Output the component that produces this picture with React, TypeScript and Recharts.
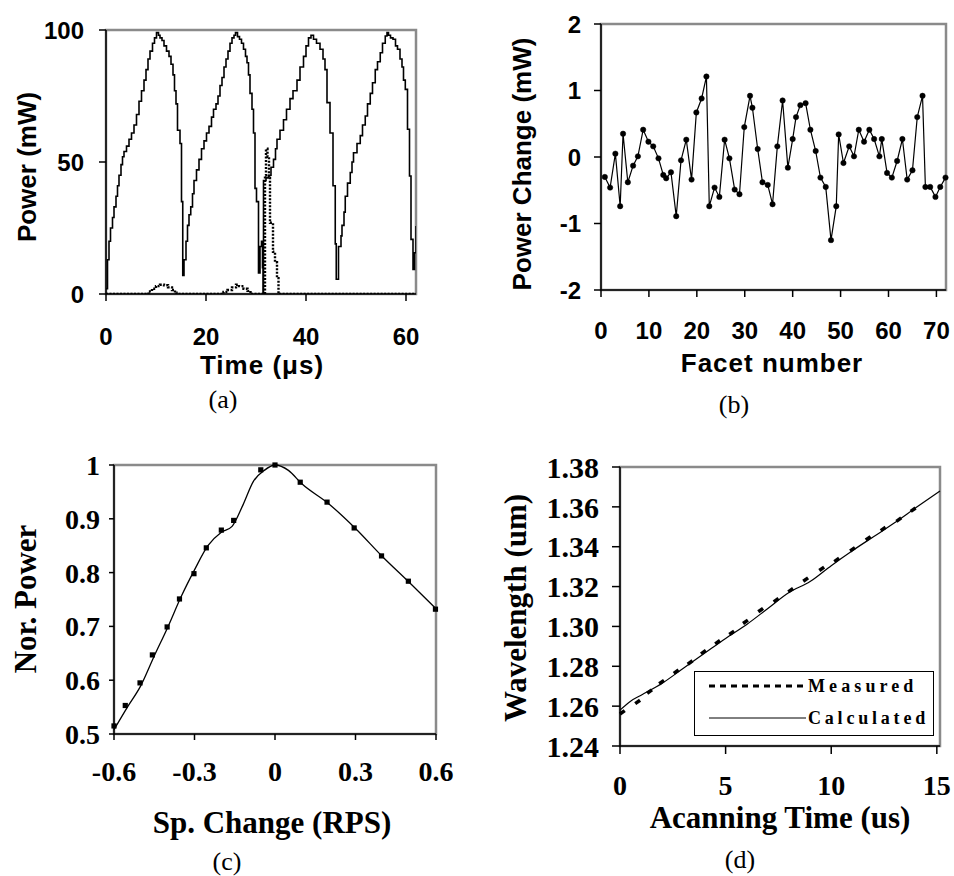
import React from 'react';
import { LineChart, Line, XAxis, YAxis, ReferenceArea } from 'recharts';

// ---------- Panel (a): Power vs time ----------
const timeMainA = [0, 0.3, 0.6, 0.9, 1.3, 1.6, 2.0, 2.3, 2.6, 3.0, 3.3, 3.6, 4.1, 4.6, 5.1, 5.6, 6.1, 6.6, 7.1, 7.6, 8.0, 8.4, 8.8, 9.3, 9.7, 10.1, 10.5, 10.8, 11.2, 11.6, 12.1, 12.6, 13.0, 13.4, 13.7, 14.0, 14.3, 14.8, 15.1, 15.35,
  15.6, 16.0, 16.3, 16.6, 16.95, 17.3, 17.6, 18.1, 18.6, 19.1, 19.6, 20.1, 20.6, 21.1, 21.5, 22.0, 22.4, 22.8, 23.2, 23.6, 24.0, 24.4, 24.8, 25.2, 25.6, 25.9, 26.3, 26.7, 27.1, 27.5, 27.9, 28.2, 28.5, 28.8, 29.2, 29.5, 29.8, 30.1, 30.5, 30.8, 31.1, 31.3, 31.4, 31.5,
  32.0, 32.5, 33.0, 33.5, 33.9, 34.2, 34.8, 35.5, 36.1, 36.8, 37.4, 38.2, 38.8, 39.5, 40.0, 40.5, 41.0, 41.5, 42.1, 42.8, 43.4, 43.8, 44.2, 44.8, 45.4, 45.85, 46.05, 46.3, 46.5,
  47.0, 47.2, 47.6, 47.85, 48.3, 48.85, 49.2, 49.5, 50.2, 50.85, 51.3, 51.85, 52.3, 52.85, 53.3, 53.85, 54.3, 54.85, 55.3, 55.85, 56.2, 56.5, 56.9, 57.4, 57.9, 58.3, 58.8, 59.2, 59.5, 59.86, 60.3, 60.7, 61.0, 61.4, 61.7, 62.0];
const powerMainA = [2, 13, 20, 25, 29, 33, 37, 41, 45, 49, 52, 54, 56, 58.6, 61, 64, 68, 73, 77, 81, 85, 89, 92, 95, 97, 99, 98, 97, 96, 94, 92, 90, 87, 83, 77, 72, 62, 57, 35, 7,
  13, 20, 26, 30, 33, 38, 43, 47, 51, 55, 58, 61, 63.5, 67, 70, 72, 75, 79, 82, 86, 89, 92, 95, 97, 98, 99, 97.5, 96.5, 95, 92.7, 90, 87.6, 83, 76, 70, 61, 40, 35, 8, 18, 20, 10, 0, 43,
  44, 45, 48, 51, 55, 58.6, 62, 66, 70, 74, 77, 81, 86, 90, 94, 97, 98, 96.5, 95, 92.7, 89, 85, 72.5, 61, 41, 19, 5.6, 5.6, 18,
  22, 26, 31, 37, 42, 46, 50, 53.5, 57, 60, 64, 67.4, 72, 76, 80, 85, 88, 91.4, 95, 97.7, 99, 98, 97, 96.5, 94, 92.7, 89, 86, 81, 77.5, 62.4, 44.7, 20.7, 9.3, 15.6, 25.8];
const timeDotA = [0, 8.0, 8.5, 9.2, 10.0, 10.8, 11.6, 12.4, 13.2, 13.8, 14.1, 23.0, 23.5, 24.3, 25.2, 26.0, 26.6, 27.5, 28.3, 28.9, 31.7, 31.8, 32.0, 32.3, 32.6, 32.8, 33.4, 33.8, 34.2, 34.5, 62];
const powerDotA = [0, 0, 1, 2, 3, 3.5, 3.3, 2.5, 1.5, 0.5, 0, 0, 0.8, 1.5, 2.5, 3.5, 3, 2, 1.2, 0, 0, 45, 55, 52, 44, 27, 16, 12, 6, 0, 0];
const ticksAx = [0, 20, 40, 60];
const ticksAy = [0, 50, 100];

// ---------- Panel (b): Power change vs facet ----------
const facetB = [0.8, 1.9, 3.0, 4.0, 4.6, 5.6, 6.7, 7.7, 8.8, 9.9, 10.9, 12.0, 13.0, 13.6, 14.6, 15.7, 16.7, 17.8, 18.9, 19.9,
  21.0, 22.0, 22.6, 23.7, 24.7, 25.8, 26.8, 27.9, 28.9, 29.9, 31.1, 31.6, 32.7, 33.7, 34.8, 35.8, 36.8, 37.9, 39.0, 40.0,
  40.7, 41.6, 42.7, 43.7, 44.8, 45.8, 46.9, 48.0, 49.1, 49.6, 50.6, 51.8, 52.8, 53.8, 54.9, 56.0, 57.0, 58.1, 58.6, 59.7,
  60.7, 61.8, 62.9, 63.9, 65.0, 66.0, 67.1, 67.7, 68.7, 69.8, 70.8, 71.9];
const changeB = [-0.30, -0.46, 0.05, -0.74, 0.35, -0.38, -0.13, 0.01, 0.41, 0.23, 0.16, -0.02, -0.27, -0.32, -0.23, -0.89, -0.05, 0.26, -0.34, 0.67,
  0.88, 1.21, -0.74, -0.46, -0.60, 0.26, -0.02, -0.49, -0.56, 0.45, 0.92, 0.74, 0.12, -0.38, -0.42, -0.71, 0.16, 0.85, -0.16, 0.27,
  0.60, 0.78, 0.81, 0.41, 0.09, -0.31, -0.45, -1.25, -0.74, 0.34, -0.09, 0.16, 0.01, 0.41, 0.23, 0.41, 0.27, 0.01, 0.27, -0.24,
  -0.31, -0.06, 0.27, -0.34, -0.20, 0.60, 0.92, -0.45, -0.45, -0.60, -0.45, -0.31];
const ticksBx = [0, 10, 20, 30, 40, 50, 60, 70];
const ticksBy = [-2, -1, 0, 1, 2];

// ---------- Panel (c): Normalised power vs speed change ----------
const speedC = [-0.6, -0.558, -0.503, -0.457, -0.402, -0.356, -0.302, -0.256, -0.2, -0.154, -0.053, 0, 0.094, 0.194, 0.295, 0.397, 0.497, 0.598];
const powerC = [0.515, 0.553, 0.595, 0.647, 0.699, 0.751, 0.798, 0.846, 0.879, 0.897, 0.991, 1.0, 0.968, 0.931, 0.883, 0.831, 0.784, 0.732];
const fitSpeedC = [-0.6, -0.55, -0.5, -0.45, -0.4, -0.35, -0.3, -0.25, -0.2, -0.16, -0.12, -0.08, -0.04, 0, 0.05, 0.1, 0.2, 0.3, 0.4, 0.5, 0.6];
const fitPowerC = [0.508, 0.55, 0.59, 0.645, 0.698, 0.755, 0.805, 0.85, 0.875, 0.886, 0.925, 0.97, 0.99, 1.0, 0.99, 0.965, 0.928, 0.882, 0.83, 0.782, 0.733];
const ticksCx = [-0.6, -0.3, 0, 0.3, 0.6];
const ticksCy = [0.5, 0.6, 0.7, 0.8, 0.9, 1];

// ---------- Panel (d): Wavelength vs scanning time ----------
const timeMeasD = [0.11, 0.835, 1.40, 1.97, 2.66, 3.32, 3.95, 4.62, 5.29, 5.94, 6.66, 7.39, 8.08, 8.79, 9.55, 10.26, 11.01, 11.75, 12.46, 13.2, 13.88];
const waveMeasD = [1.2569, 1.2621, 1.2673, 1.2721, 1.2773, 1.2819, 1.2871, 1.2921, 1.2968, 1.3023, 1.3082, 1.3132, 1.3182, 1.3235, 1.3289, 1.3334, 1.3387, 1.3442, 1.3489, 1.3536, 1.3586];
const timeCalcD = [0, 0.5, 1, 2, 3, 4, 5, 6, 7, 8, 9, 10, 11, 12, 13, 14, 15.15];
const waveCalcD = [1.258, 1.2625, 1.2655, 1.2715, 1.279, 1.2865, 1.294, 1.301, 1.309, 1.317, 1.3225, 1.3305, 1.338, 1.345, 1.352, 1.3595, 1.368];
const ticksDx = [0, 5, 10, 15];
const ticksDy = [1.24, 1.26, 1.28, 1.30, 1.32, 1.34, 1.36, 1.38];

const zip = (xs: number[], ys: number[]) => xs.map((x, i) => ({ x, y: ys[i] }));

const W = 954;
const H = 876;
const SANS = '"Liberation Sans", Arial, sans-serif';
const SERIF = '"Liberation Serif", "Times New Roman", serif';
const FRAME = '#8a8a8a';

const sansTick = { fill: '#000', fontSize: 24, fontWeight: 'bold', fontFamily: SANS } as any;
const serifTick = { fill: '#000', fontSize: 28, fontWeight: 'bold', fontFamily: SERIF } as any;
const serifTickD = { fill: '#000', fontSize: 30, fontWeight: 'bold', fontFamily: SERIF } as any;
const axisLine = { stroke: '#000', strokeWidth: 1.5 };
const tickLine = { stroke: '#000', strokeWidth: 1.5 };

const SquareDot = (props: any) => {
  const { cx, cy } = props;
  if (cx == null || cy == null) return null;
  return <rect x={cx - 2.6} y={cy - 2.6} width={5.2} height={5.2} fill="#000" />;
};
const DashDot = (props: any) => {
  const { cx, cy } = props;
  if (cx == null || cy == null) return null;
  return <line x1={cx - 2.4} y1={cy + 1.7} x2={cx + 2.4} y2={cy - 1.7} stroke="#000" strokeWidth={3.5} />;
};

const Text = ({ children, x, y, font, size, weight = 'bold', rotate = false, ls = 0 }: any) => (
  <div
    style={{
      position: 'absolute', left: x, top: y, whiteSpace: 'nowrap', lineHeight: 1,
      transform: `translate(-50%, -50%)${rotate ? ' rotate(-90deg)' : ''}`,
      fontFamily: font, fontSize: size, fontWeight: weight, letterSpacing: ls, color: '#000',
    }}
  >
    {children}
  </div>
);

const layer: React.CSSProperties = { position: 'absolute', left: 0, top: 0 };

export default function App() {
  return (
    <div style={{ position: 'absolute', left: 0, top: 0, width: W, height: H, background: '#fff', overflow: 'hidden' }}>
      {/* Panel (a) */}
      <div style={layer}>
        <LineChart width={W} height={H} margin={{ top: 30, left: 46, right: 538, bottom: 552 }}>
          <XAxis type="number" dataKey="x" domain={[0, 62]} ticks={ticksAx} height={30} tickSize={7} tickMargin={27}
            axisLine={axisLine} tickLine={tickLine} tick={sansTick} allowDataOverflow />
          <YAxis type="number" dataKey="y" domain={[0, 100]} ticks={ticksAy} width={60} tickSize={7} tickMargin={15}
            axisLine={axisLine} tickLine={tickLine} tick={sansTick} allowDataOverflow />
          <ReferenceArea x1={0} x2={62} y1={0} y2={100} fill="none" stroke={FRAME} strokeWidth={2.5} ifOverflow="visible" />
          <Line data={zip(timeDotA, powerDotA)} dataKey="y" type="stepAfter" stroke="#000" strokeWidth={2.4}
            strokeDasharray="2 1.5" dot={false} isAnimationActive={false} />
          <Line data={zip(timeMainA, powerMainA)} dataKey="y" type="stepAfter" stroke="#000" strokeWidth={1.6}
            dot={false} isAnimationActive={false} />
        </LineChart>
      </div>

      {/* Panel (b) */}
      <div style={layer}>
        <LineChart width={W} height={H} margin={{ top: 24, left: 541, right: 8, bottom: 556 }}>
          <XAxis type="number" dataKey="x" domain={[0, 72]} ticks={ticksBx} height={30} tickSize={7} tickMargin={25}
            axisLine={axisLine} tickLine={tickLine} tick={sansTick} />
          <YAxis type="number" dataKey="y" domain={[-2, 2]} ticks={ticksBy} width={60} tickSize={7} tickMargin={13}
            axisLine={axisLine} tickLine={tickLine} tick={sansTick} />
          <ReferenceArea x1={0} x2={72} y1={-2} y2={2} fill="none" stroke={FRAME} strokeWidth={2.5} ifOverflow="visible" />
          <Line data={zip(facetB, changeB)} dataKey="y" type="linear" stroke="#000" strokeWidth={1.2}
            dot={{ r: 2.7, fill: '#000', stroke: '#000', strokeWidth: 0.5 }} isAnimationActive={false} />
        </LineChart>
      </div>

      {/* Panel (c) */}
      <div style={layer}>
        <LineChart width={W} height={H} margin={{ top: 465, left: 54, right: 518, bottom: 112 }}>
          <XAxis type="number" dataKey="x" domain={[-0.6, 0.6]} ticks={ticksCx} height={30} tickSize={6} tickMargin={21}
            axisLine={axisLine} tickLine={tickLine} tick={serifTick} />
          <YAxis type="number" dataKey="y" domain={[0.5, 1]} ticks={ticksCy} width={60} tickSize={5} tickMargin={9}
            axisLine={axisLine} tickLine={tickLine} tick={serifTick} />
          <ReferenceArea x1={-0.6} x2={0.6} y1={0.5} y2={1} fill="none" stroke={FRAME} strokeWidth={2.5} ifOverflow="visible" />
          <Line data={zip(fitSpeedC, fitPowerC)} dataKey="y" type="monotone" stroke="#000" strokeWidth={1.3}
            dot={false} isAnimationActive={false} />
          <Line data={zip(speedC, powerC)} dataKey="y" type="linear" stroke="none" strokeWidth={0}
            dot={<SquareDot />} isAnimationActive={false} />
        </LineChart>
      </div>

      {/* Panel (d) */}
      <div style={layer}>
        <LineChart width={W} height={H} margin={{ top: 467, left: 560, right: 14, bottom: 100 }}>
          <XAxis type="number" dataKey="x" domain={[0, 15.15]} ticks={ticksDx} height={30} tickSize={8} tickMargin={21}
            axisLine={axisLine} tickLine={tickLine} tick={serifTick} />
          <YAxis type="number" dataKey="y" domain={[1.24, 1.38]} ticks={ticksDy} width={60} tickSize={8} tickMargin={13}
            axisLine={axisLine} tickLine={tickLine} tick={serifTickD} tickFormatter={(v: number) => v.toFixed(2)} />
          <ReferenceArea x1={0} x2={15.15} y1={1.24} y2={1.38} fill="none" stroke={FRAME} strokeWidth={2.5} ifOverflow="visible" />
          <Line data={zip(timeCalcD, waveCalcD)} dataKey="y" type="monotone" stroke="#000" strokeWidth={1.2}
            dot={false} isAnimationActive={false} name="Calculated" />
          <Line data={zip(timeMeasD, waveMeasD)} dataKey="y" type="linear" stroke="none" strokeWidth={0}
            dot={<DashDot />} isAnimationActive={false} name="Measured" />
        </LineChart>
      </div>

      {/* Legend (d) */}
      <div style={{ position: 'absolute', left: 694, top: 671, width: 240, height: 65, border: '1px solid #000', background: '#fff', boxSizing: 'border-box' }}>
        <svg width={120} height={65} style={{ position: 'absolute', left: 0, top: 0 }}>
          <line x1={14} y1={14} x2={111} y2={14} stroke="#000" strokeWidth={3} strokeDasharray="6 5" />
          <line x1={14} y1={46} x2={111} y2={46} stroke="#000" strokeWidth={1} />
        </svg>
        <div style={{ position: 'absolute', left: 113, top: 5, fontFamily: SERIF, fontWeight: 'bold', fontSize: 18, letterSpacing: 4.1, lineHeight: 1 }}>Measured</div>
        <div style={{ position: 'absolute', left: 113, top: 37, fontFamily: SERIF, fontWeight: 'bold', fontSize: 18, letterSpacing: 3.8, lineHeight: 1 }}>Calculated</div>
      </div>

      {/* Axis titles and panel labels */}
      <Text x={27} y={167} font={SANS} size={26} rotate>Power (mW)</Text>
      <Text x={262} y={365} font={SANS} size={26} ls={1}>Time (μs)</Text>
      <Text x={223} y={400} font={SERIF} size={26} weight="normal">(a)</Text>

      <Text x={522} y={164} font={SANS} size={26} rotate>Power Change (mW)</Text>
      <Text x={772} y={363} font={SANS} size={26} ls={1}>Facet number</Text>
      <Text x={734} y={405} font={SERIF} size={26} weight="normal">(b)</Text>

      <Text x={25} y={599} font={SERIF} size={31} rotate>Nor. Power</Text>
      <Text x={272} y={822} font={SERIF} size={31}>Sp. Change (RPS)</Text>
      <Text x={227} y={862} font={SERIF} size={26} weight="normal">(c)</Text>

      <Text x={515} y={608} font={SERIF} size={31} rotate>Wavelength (um)</Text>
      <Text x={780} y={817} font={SERIF} size={31}>Acanning Time (us)</Text>
      <Text x={740} y={860} font={SERIF} size={26} weight="normal">(d)</Text>
    </div>
  );
}
